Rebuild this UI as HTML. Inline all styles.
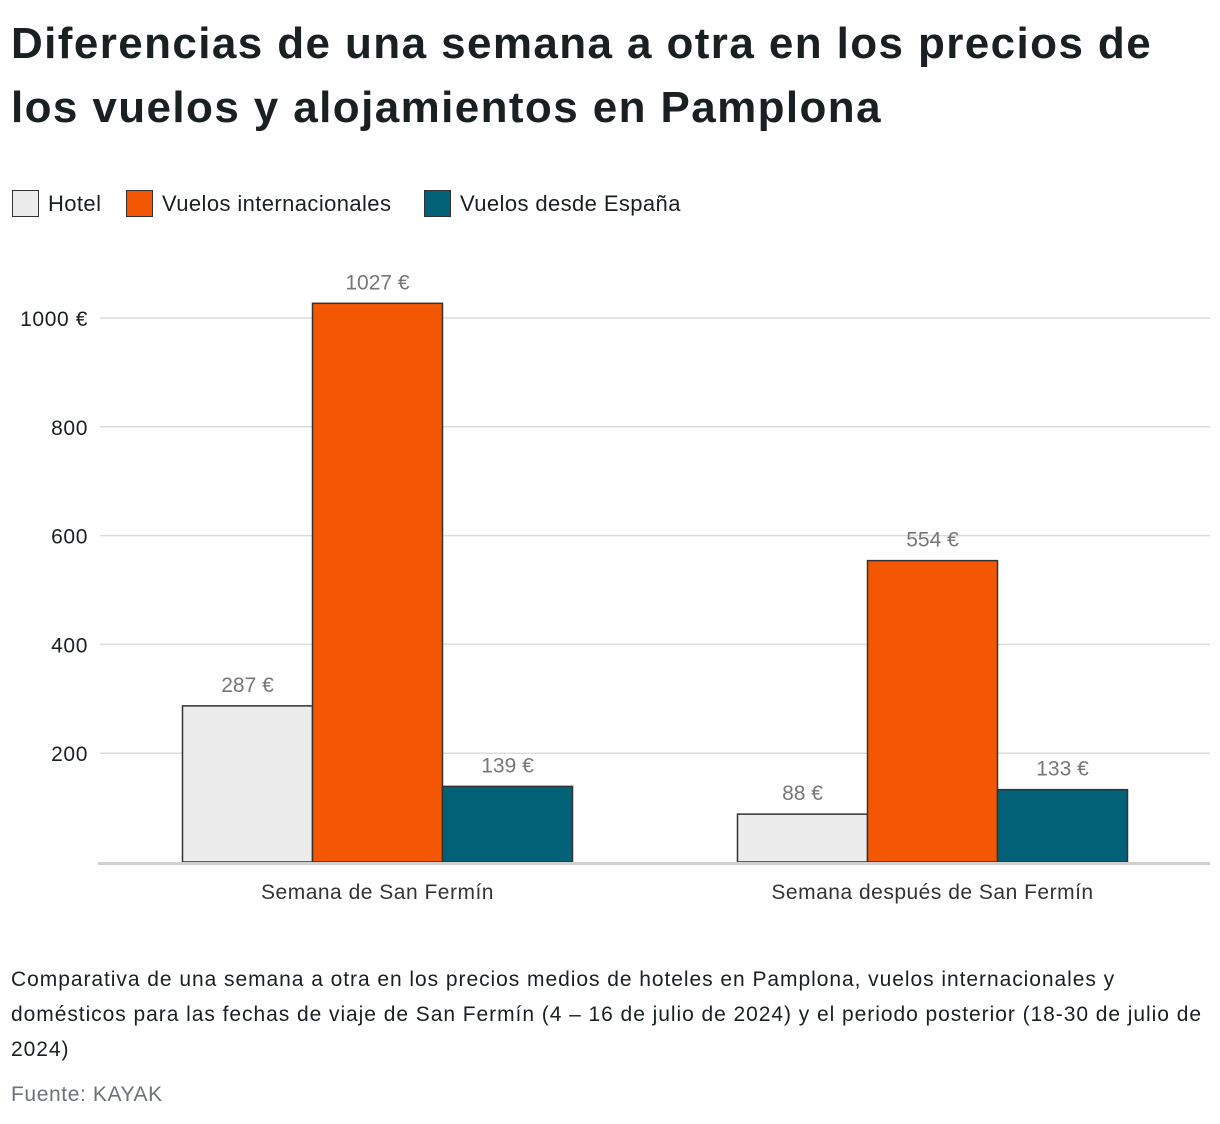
<!DOCTYPE html>
<html><head><meta charset="utf-8"><style>
body{margin:0;width:1220px;height:1124px;background:#fff;font-family:"Liberation Sans",sans-serif;color:#1a1f22;position:relative;overflow:hidden}
h1{position:absolute;left:11px;top:12px;margin:0;font-size:44px;line-height:64px;font-weight:bold;letter-spacing:1.4px;width:1190px}
.leg{position:absolute;top:190px;display:flex;align-items:center;font-size:22px;letter-spacing:0.4px}
.sw{width:25px;height:25px;border:1.5px solid #333;margin-right:9px}
.cap{position:absolute;left:11px;top:962px;font-size:21px;line-height:35px;width:1209px;letter-spacing:0.95px;color:#1a1f22}
.src{position:absolute;left:11px;top:1083px;font-size:21px;letter-spacing:0.6px;color:#6b7378}
</style></head><body>
<h1>Diferencias de una semana a otra en los precios de los vuelos y alojamientos en Pamplona</h1>
<div class="leg" style="left:12px"><div class="sw" style="background:#ececec"></div>Hotel</div>
<div class="leg" style="left:126px"><div class="sw" style="background:#f45703"></div>Vuelos internacionales</div>
<div class="leg" style="left:424px"><div class="sw" style="background:#026077"></div>Vuelos desde España</div>
<svg id="chart" width="1220" height="1124" style="position:absolute;left:0;top:0"></svg>
<div class="cap">Comparativa de una semana a otra en los precios medios de hoteles en Pamplona, vuelos internacionales y domésticos para las fechas de viaje de San Fermín (4 – 16 de julio de 2024) y el periodo posterior (18-30 de julio de 2024)</div>
<div class="src">Fuente: KAYAK</div>
<script>
const categories=["Semana de San Fermín","Semana después de San Fermín"];
const hotel=[287,88];
const intl=[1027,554];
const spain=[139,133];
const ticks=[200,400,600,800,1000];
const tickLabels=["200","400","600","800","1000 €"];
const NS="http://www.w3.org/2000/svg",svg=document.getElementById('chart');
const y0=862,k=0.544,x0=100,x1=1210,band=(x1-x0)/categories.length,bw=130;
const y=v=>y0-v*k;
function mk(t,a){const e=document.createElementNS(NS,t);for(const n in a)e.setAttribute(n,a[n]);svg.appendChild(e);return e;}
ticks.forEach((t,i)=>{
const g=mk('line',{x1:x0,x2:x1,y1:y(t),y2:y(t),stroke:'#dcdcdc','stroke-width':1.5});


const l=mk('text',{x:88,y:y(t)+8,'text-anchor':'end','font-size':21,'letter-spacing':0.6,fill:'#1a1f22','font-family':'Liberation Sans'});
l.textContent=tickLabels[i];


});
const series=[[hotel,'#ececec','hotel'],[intl,'#f45703','intl'],[spain,'#026077','spain']];
categories.forEach((c,ci)=>{
const cx=x0+band*(ci+0.5);
series.forEach(([d,col,nm],si)=>{
const bx=cx-1.5*bw+si*bw;
const r=mk('rect',{x:bx,y:y(d[ci]),width:bw,height:d[ci]*k,fill:col,stroke:'#333','stroke-width':1.5});


const t=mk('text',{x:bx+bw/2,y:y(d[ci])-14,'text-anchor':'middle','font-size':21,fill:'#777','font-family':'Liberation Sans'});
t.textContent=d[ci]+' €';


});
const xl=mk('text',{x:cx,y:899,'text-anchor':'middle','font-size':21,'letter-spacing':0.5,fill:'#333','font-family':'Liberation Sans'});
xl.textContent=c;


});
const b=mk('line',{x1:98,x2:x1,y1:y0+1.5,y2:y0+1.5,stroke:'#d0d0d0','stroke-width':3});


</script>
</body></html>
